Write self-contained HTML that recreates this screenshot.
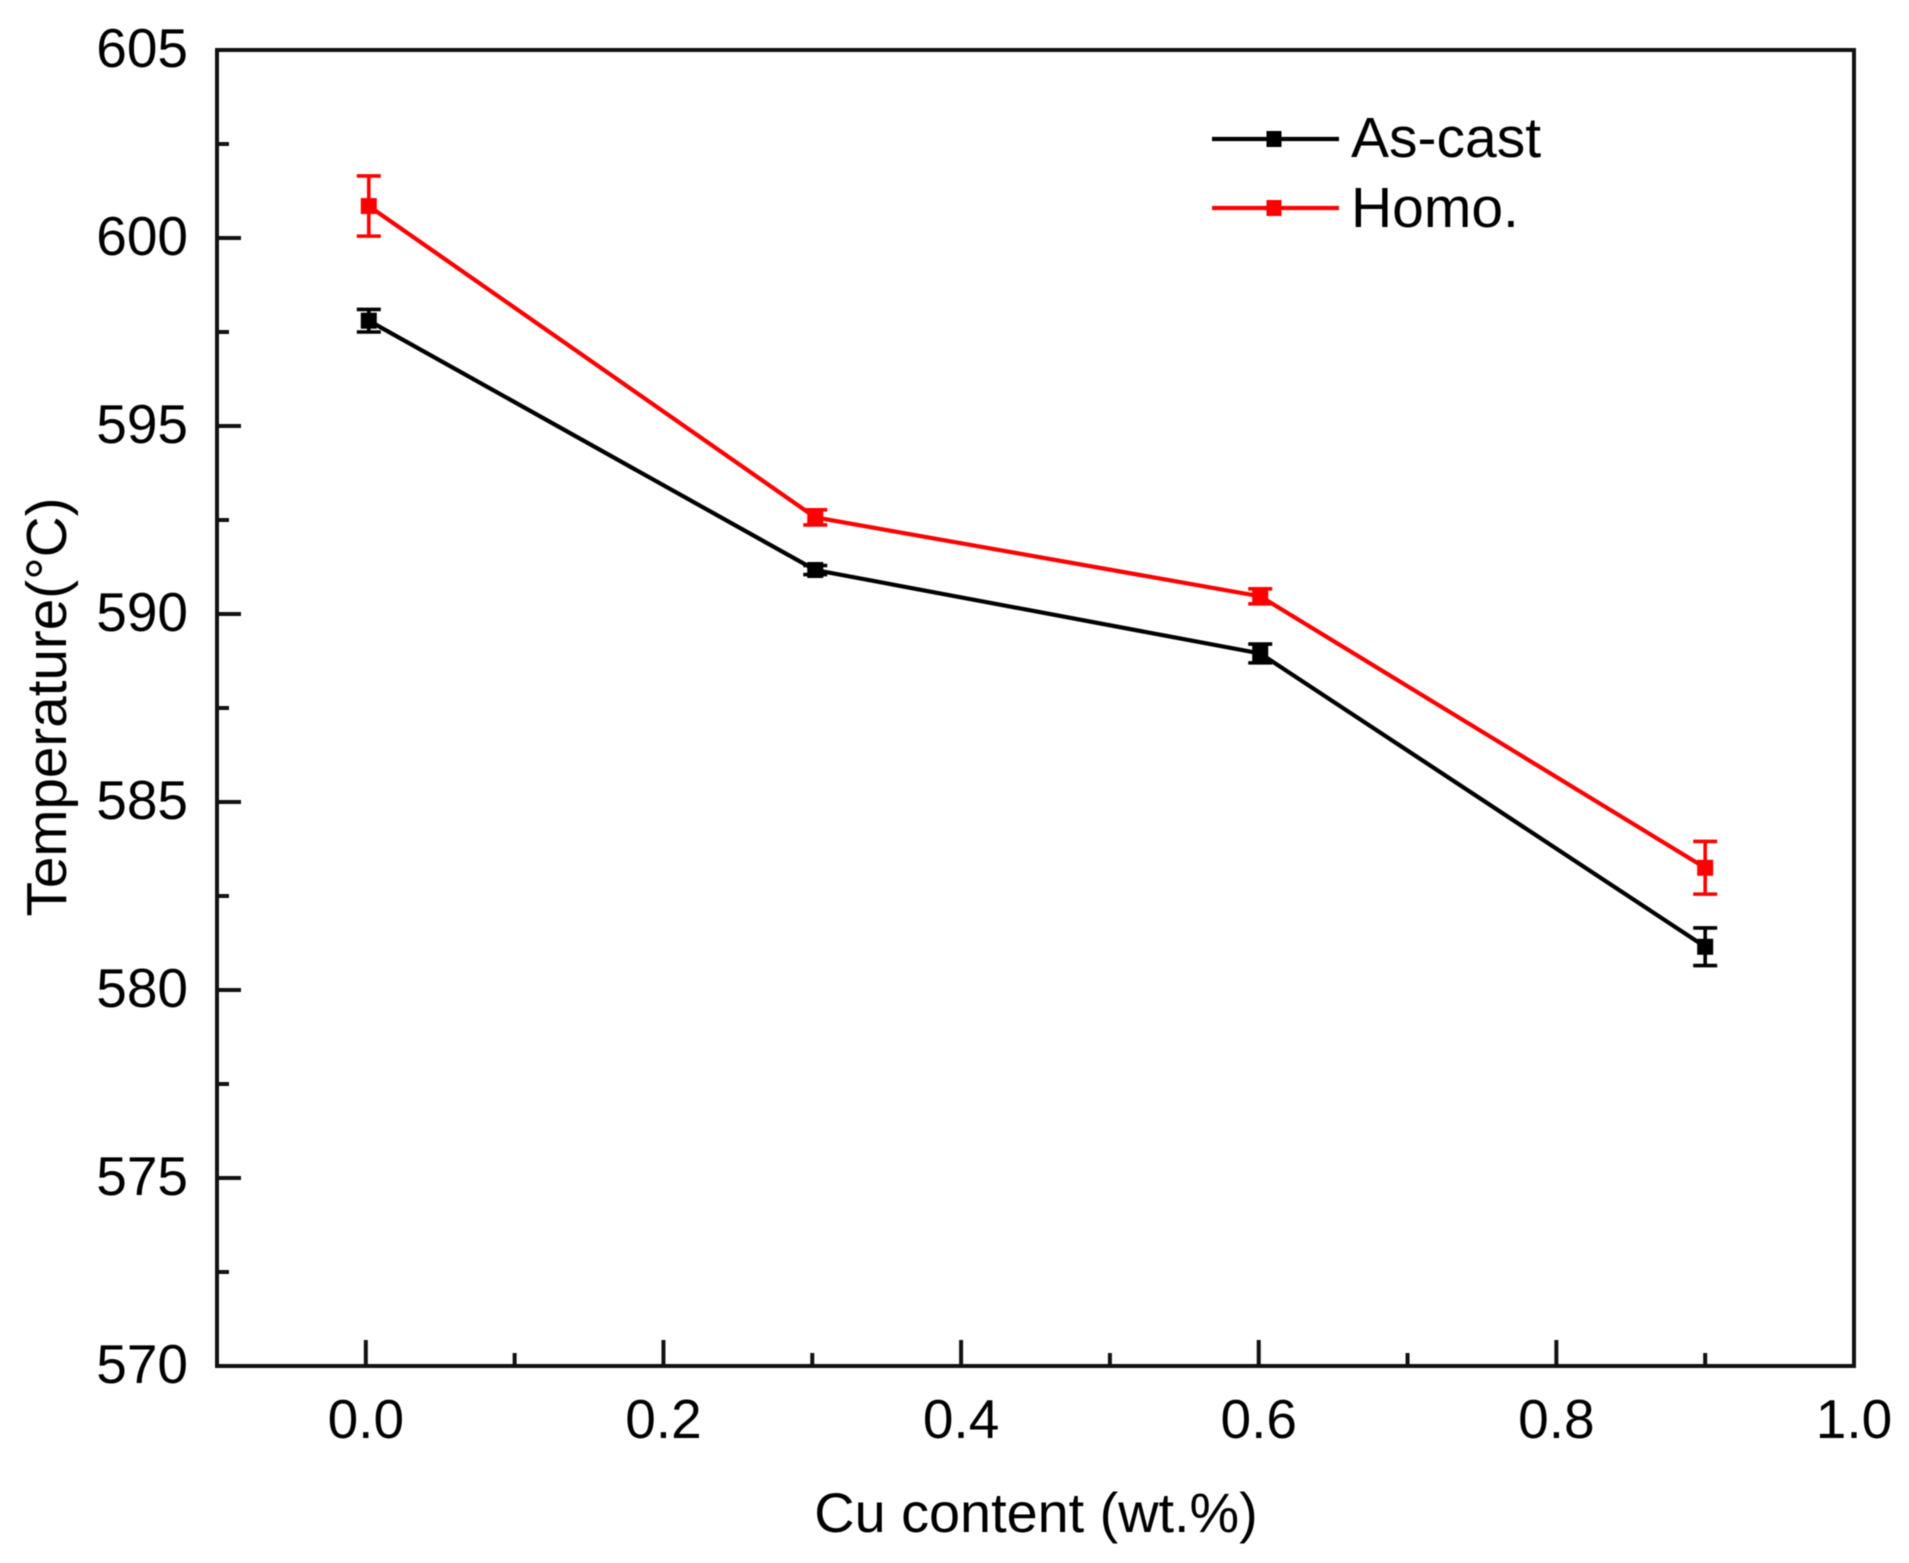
<!DOCTYPE html>
<html lang="en">
<head>
<meta charset="utf-8">
<title>Temperature vs Cu content</title>
<style>
html,body{margin:0;padding:0;background:#fff;}
#chart{display:block;width:1909px;height:1563px;filter:blur(0.6px);}
text{font-family:"Liberation Sans",Arial,sans-serif;font-size:55px;fill:#000;}
</style>
</head>
<body>
<svg id="chart" xmlns="http://www.w3.org/2000/svg" width="1909" height="1563" viewBox="0 0 1909 1563">
  <rect x="0" y="0" width="1909" height="1563" fill="#fff"/>
  <g id="series-layer"></g>
  <g id="axis-layer"></g>
  <text x="1036" y="1532" text-anchor="middle" style="font-size:55.8px">Cu content (wt.%)</text>
  <text transform="translate(66,707) rotate(-90)" text-anchor="middle" style="font-size:56.6px">Temperature(°C)</text>
  <g>
    <g>
      <line x1="1212" y1="139" x2="1339" y2="139" stroke="#000" stroke-width="4.2"/>
      <rect x="1266.5" y="131" width="15" height="16" fill="#000"/>
      <text x="1351" y="157" style="font-size:57px">As-cast</text>
    </g>
    <g>
      <line x1="1212" y1="208" x2="1339" y2="208" stroke="#f00" stroke-width="4.2"/>
      <rect x="1266.5" y="200" width="15" height="16" fill="#f00"/>
      <text x="1351" y="227" style="font-size:57px">Homo.</text>
    </g>
  </g>
</svg>
<script>
const cuContent = [0.002, 0.302, 0.601, 0.9];
const asCastValues = [597.8, 591.17, 588.95, 581.15];
const asCastErrors = [0.3, 0.12, 0.25, 0.5];
const homoValues = [600.85, 592.57, 590.47, 583.25];
const homoErrors = [0.8, 0.2, 0.2, 0.7];
const xMajorTicks = [0.0, 0.2, 0.4, 0.6, 0.8, 1.0];
const xMajorLabels = ["0.0", "0.2", "0.4", "0.6", "0.8", "1.0"];
const xMinorTicks = [0.1, 0.3, 0.5, 0.7, 0.9];
const yMajorTicks = [570, 575, 580, 585, 590, 595, 600, 605];
const yMajorLabels = ["570", "575", "580", "585", "590", "595", "600", "605"];
const yMinorTicks = [572.5, 577.5, 582.5, 587.5, 592.5, 597.5, 602.5];

const NS = "http://www.w3.org/2000/svg";
const plotLeft = 217, plotRight = 1854, plotTop = 50, plotBottom = 1366;
const xMin = -0.1, xMax = 1.0, yMin = 570, yMax = 605;
function xScale(v) { return plotLeft + (v - xMin) / (xMax - xMin) * (plotRight - plotLeft); }
function yScale(v) { return plotBottom - (v - yMin) / (yMax - yMin) * (plotBottom - plotTop); }
function make(tag, attrs, parent) {
  const el = document.createElementNS(NS, tag);
  for (const k in attrs) el.setAttribute(k, attrs[k]);
  parent.appendChild(el);
  return el;
}

const seriesLayer = document.getElementById("series-layer");
const axisLayer = document.getElementById("axis-layer");

function drawSeries(key, values, errors, color) {
  const group = make("g", {}, seriesLayer);
  
  
  const pts = values.map((v, i) => xScale(cuContent[i]) + "," + yScale(v)).join(" ");
  const path = make("polyline", { points: pts, fill: "none", stroke: color, "stroke-width": 4.2, "stroke-linejoin": "miter" }, group);
  
  
  values.forEach((v, i) => {
    const px = xScale(cuContent[i]);
    const hi = yScale(v + errors[i]);
    const lo = yScale(v - errors[i]);
    const stem = make("line", { x1: px, x2: px, y1: hi, y2: lo, stroke: color, "stroke-width": 3.6 }, group);
    
    
    const capTop = make("line", { x1: px - 12, x2: px + 12, y1: hi, y2: hi, stroke: color, "stroke-width": 3.6 }, group);
    
    
    const capBottom = make("line", { x1: px - 12, x2: px + 12, y1: lo, y2: lo, stroke: color, "stroke-width": 3.6 }, group);
    
    
    const marker = make("rect", { x: px - 8, y: yScale(v) - 8, width: 16, height: 16, fill: color }, group);
    
    
  });
}
drawSeries("as-cast", asCastValues, asCastErrors, "#000");
drawSeries("homo", homoValues, homoErrors, "#f00");

const frame = make("rect", { x: plotLeft, y: plotTop, width: plotRight - plotLeft, height: plotBottom - plotTop, fill: "none", stroke: "#111", "stroke-width": 4 }, axisLayer);



xMajorTicks.forEach((v, i) => {
  const px = xScale(v);
  if (v < xMax) {
    const tick = make("line", { x1: px, x2: px, y1: plotBottom, y2: plotBottom - 26, stroke: "#111", "stroke-width": 4 }, axisLayer);
    
    
  }
  const label = make("text", { x: px, y: 1438, "text-anchor": "middle" }, axisLayer);
  
  
  label.textContent = xMajorLabels[i];
});
xMinorTicks.forEach(v => {
  const px = xScale(v);
  const tick = make("line", { x1: px, x2: px, y1: plotBottom, y2: plotBottom - 13, stroke: "#111", "stroke-width": 4 }, axisLayer);
  
  
});
yMajorTicks.forEach((v, i) => {
  const py = yScale(v);
  if (v > yMin && v < yMax) {
    const tick = make("line", { x1: plotLeft, x2: plotLeft + 24, y1: py, y2: py, stroke: "#111", "stroke-width": 4 }, axisLayer);
    
    
  }
  const label = make("text", { x: 188, y: py + 17, "text-anchor": "end" }, axisLayer);
  
  
  label.textContent = yMajorLabels[i];
});
yMinorTicks.forEach(v => {
  const py = yScale(v);
  const tick = make("line", { x1: plotLeft, x2: plotLeft + 12, y1: py, y2: py, stroke: "#111", "stroke-width": 4 }, axisLayer);
  
  
});
</script>
</body>
</html>
